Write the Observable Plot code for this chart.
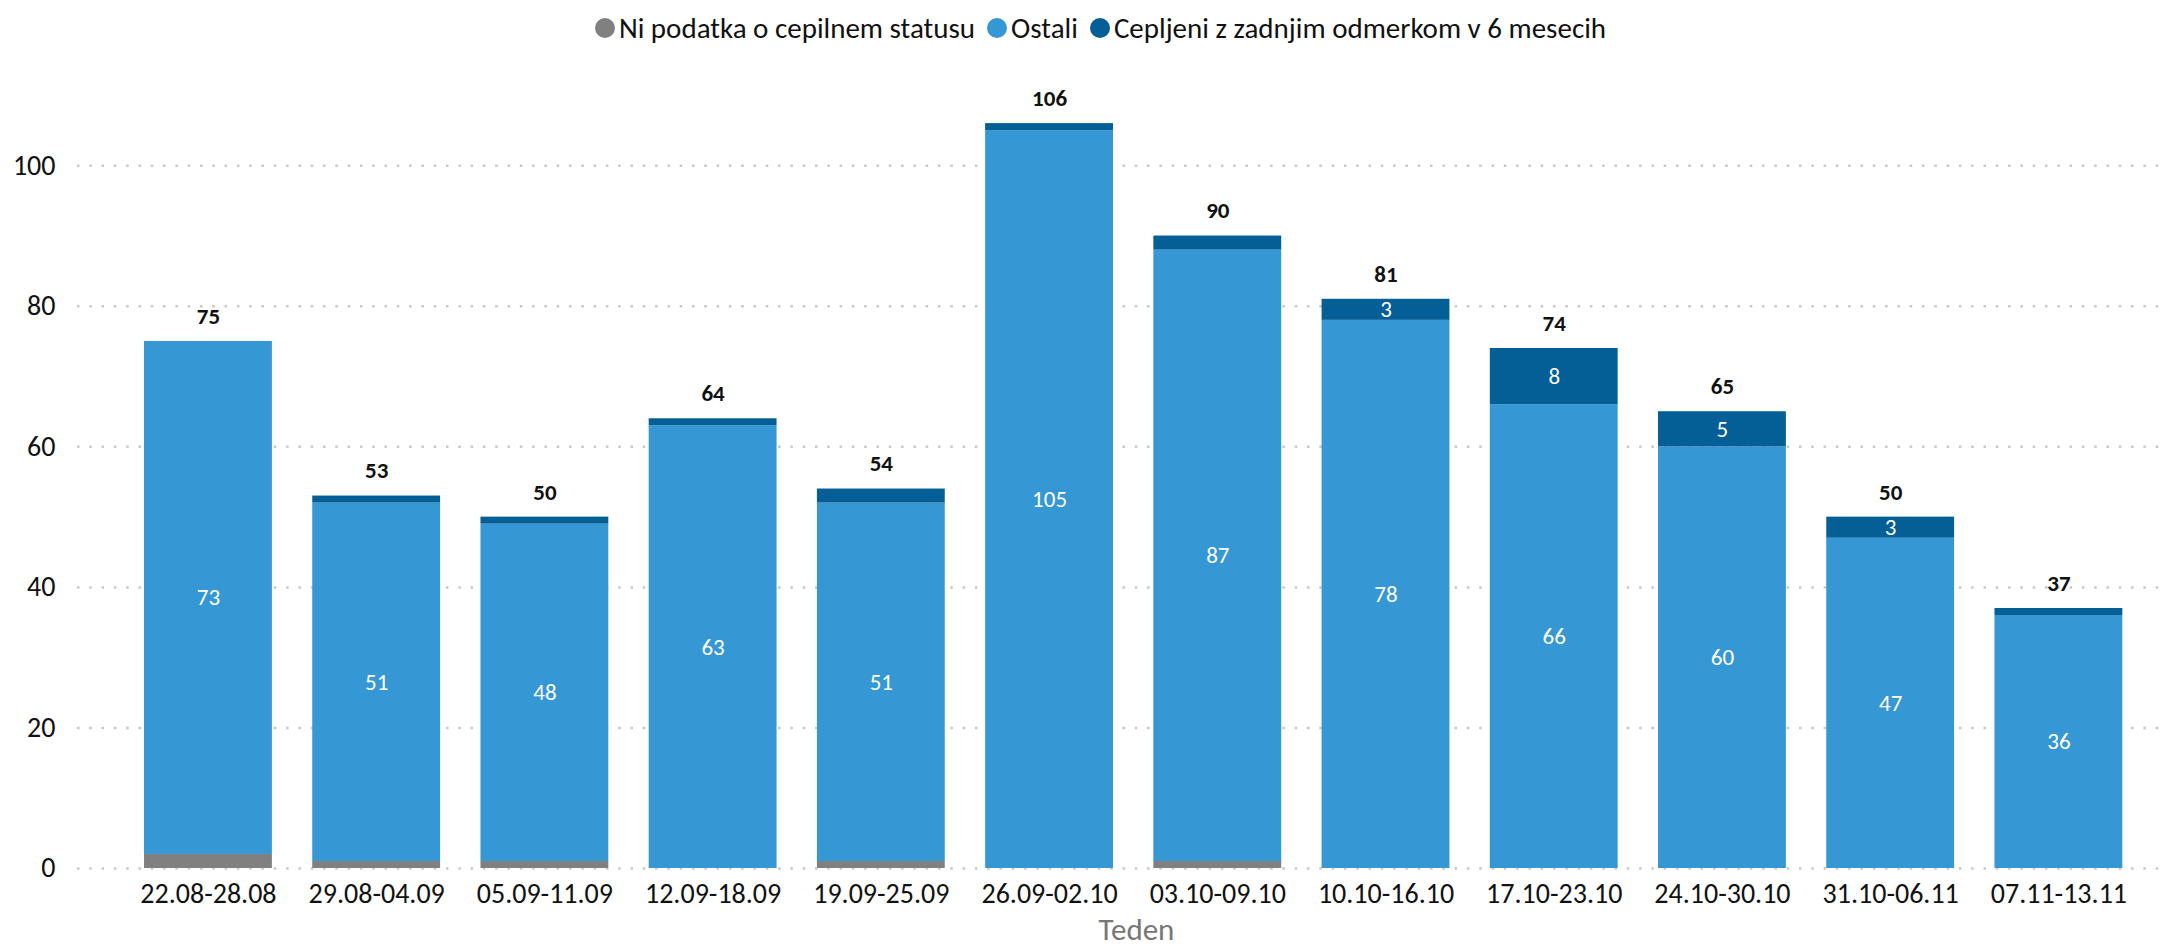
<!DOCTYPE html>
<html>
<head>
<meta charset="utf-8">
<script src="https://cdn.jsdelivr.net/npm/d3@7"></script>
<script src="https://cdn.jsdelivr.net/npm/@observablehq/plot@0.6"></script>
<style>
  html, body { margin: 0; padding: 0; background: #fff; overflow: hidden; }
  body { width: 2175px; font-family: Carlito, Lato, sans-serif; }
  #legend { height: 56px; display: flex; justify-content: center; align-items: center; padding-left: 26px; box-sizing: border-box; }
  .item { display: flex; align-items: center; font-size: 29px; line-height: 1; color: #111; margin: 0 6px; }
  .sw { width: 20px; height: 20px; border-radius: 50%; margin-right: 4px; }
  #chart svg { display: block; }
</style>
</head>
<body>
<div id="legend"></div>
<div id="chart"></div>
<script>
const weeks = ["22.08-28.08","29.08-04.09","05.09-11.09","12.09-18.09","19.09-25.09","26.09-02.10","03.10-09.10","10.10-16.10","17.10-23.10","24.10-30.10","31.10-06.11","07.11-13.11"];
const niPodatka = [2,1,1,0,1,0,1,0,0,0,0,0];
const ostali    = [73,51,48,63,51,105,87,78,66,60,47,36];
const cepljeni  = [0,1,1,1,2,1,2,3,8,5,3,1];
const seriesNames = ["Ni podatka o cepilnem statusu","Ostali","Cepljeni z zadnjim odmerkom v 6 mesecih"];
const seriesColors = ["#808080","#3597d3","#035f96"];
const yTicks = [0,20,40,60,80,100];
const xTitle = "Teden";
const minInnerLabel = 3;

const seriesValues = [niPodatka, ostali, cepljeni];
const rows = [];
weeks.forEach((w, i) => {
  seriesNames.forEach((s, k) => {
    rows.push({week: w, series: s, value: seriesValues[k][i], k});
  });
});

// legend
const legend = document.getElementById("legend");
seriesNames.forEach((s, k) => {
  const it = document.createElement("div");
  it.className = "item";
  const sw = document.createElement("span");
  sw.className = "sw";
  sw.style.background = seriesColors[k];
  const t = document.createElement("span");
  t.textContent = s;
  it.appendChild(sw); it.appendChild(t);
  legend.appendChild(it);
});

const chart = Plot.plot({
  width: 2175,
  height: 896,
  marginLeft: 77,
  marginRight: 8,
  marginTop: 39,
  marginBottom: 84,
  style: {fontFamily: "Carlito, Lato, sans-serif", fontSize: "28px", color: "#111", background: "#fff"},
  x: {domain: weeks, paddingInner: 0.24, paddingOuter: 0.332, align: 0.6, round: false, label: null},
  y: {domain: [0, 110], label: null},
  color: {domain: seriesNames, range: seriesColors},
  marks: [
    Plot.gridY(yTicks, {stroke: "#c8c8c8", strokeOpacity: 1, strokeWidth: 2.5, strokeDasharray: "2.5 9.8"}),
    Plot.barY(rows, Plot.stackY({x: "week", y: "value", fill: "series", z: "series"})),
    Plot.text(rows, Plot.stackY({
      x: "week", y: "value", z: "series",
      text: d => (d.k === 1 || (d.k === 2 && d.value >= minInnerLabel)) ? String(d.value) : null,
      fill: "white", fontSize: 23
    })),
    Plot.text(rows, Plot.groupX({y: "sum", text: "sum"}, {x: "week", y: "value", text: "value", dy: -25, fontWeight: "bold", fontSize: 23, fill: "#111"})),
    Plot.axisY({ticks: yTicks, tickSize: 0, tickPadding: 22, label: null, fontSize: 28}),
    Plot.axisX({tickSize: 0, tickPadding: 15, label: null, fontSize: 28}),
    Plot.text([xTitle], {text: d => d, frameAnchor: "bottom", lineAnchor: "middle", dx: 14, dy: 62, fontSize: 31, fill: "#777"})
  ]
});
document.getElementById("chart").appendChild(chart);
</script>
</body>
</html>
